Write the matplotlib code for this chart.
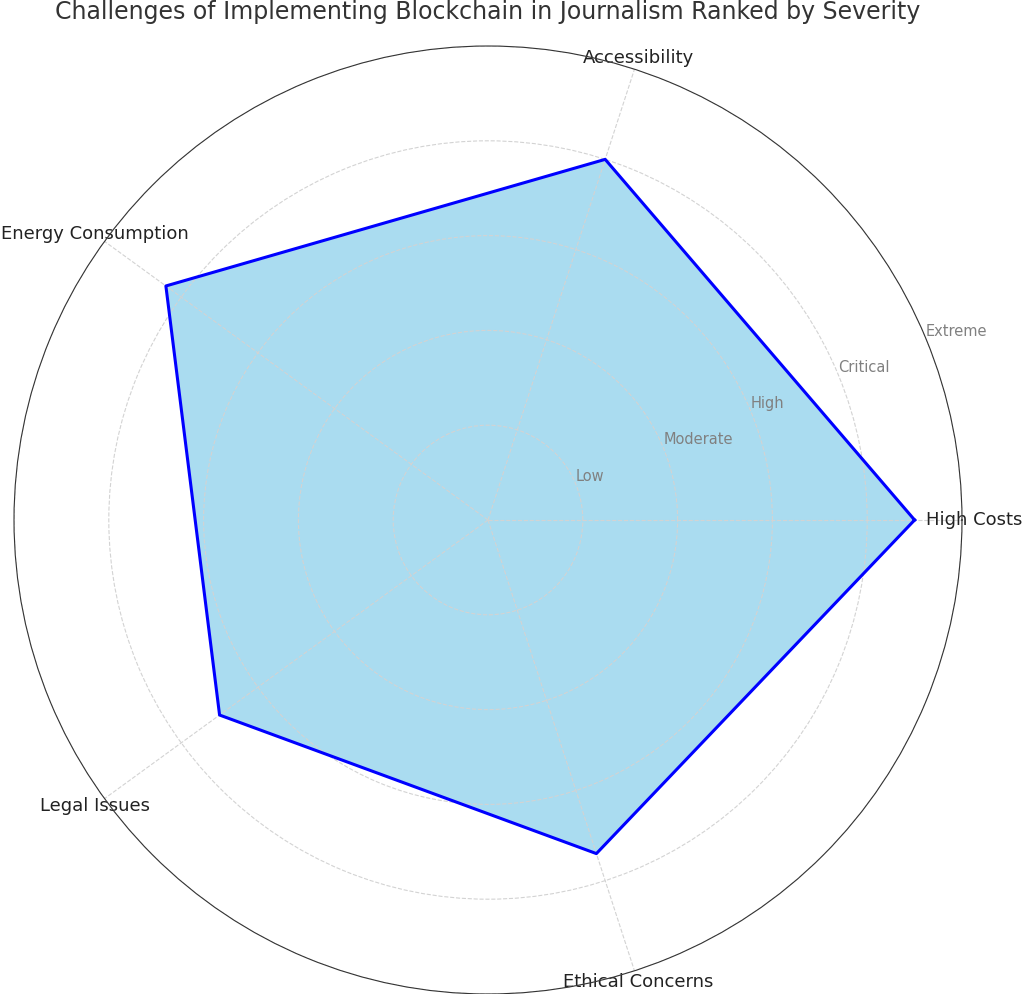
import numpy as np
import matplotlib.pyplot as plt

categories = ["High Costs", "Accessibility", "Energy Consumption", "Legal Issues", "Ethical Concerns"]
values = [4.5, 4.0, 4.2, 3.5, 3.7]
level_ticks = [1, 2, 3, 4, 5]
level_labels = ["Low", "Moderate", "High", "Critical", "Extreme"]

angles = np.linspace(0, 2 * np.pi, len(categories), endpoint=False)
ang_closed = np.concatenate([angles, angles[:1]])
val_closed = values + values[:1]

fig = plt.figure(figsize=(10.24, 9.94), dpi=100)
ax = fig.add_axes([14 / 1024, 0.0, 948 / 1024, 948 / 994], projection="polar")

ax.fill(ang_closed, val_closed, color="skyblue", alpha=0.7)
ax.plot(ang_closed, val_closed, color="blue", linewidth=2.2)

ax.set_ylim(0, 5)
ax.set_yticks(level_ticks)
ax.set_yticklabels(level_labels, color="gray", fontsize=10.5)
ax.set_rlabel_position(22.5)
ax.set_xticks(angles)
ax.set_xticklabels(categories, fontsize=13, color="#222222")
ax.tick_params(axis="x", pad=-2)
ax.grid(color="lightgray", linestyle="--", linewidth=0.8)
ax.spines["polar"].set_color("#333333")

fig.text(0.476, 0.988, "Challenges of Implementing Blockchain in Journalism Ranked by Severity",
         ha="center", va="center", fontsize=17, color="#333333")

fig.savefig("out.png", dpi=100)
